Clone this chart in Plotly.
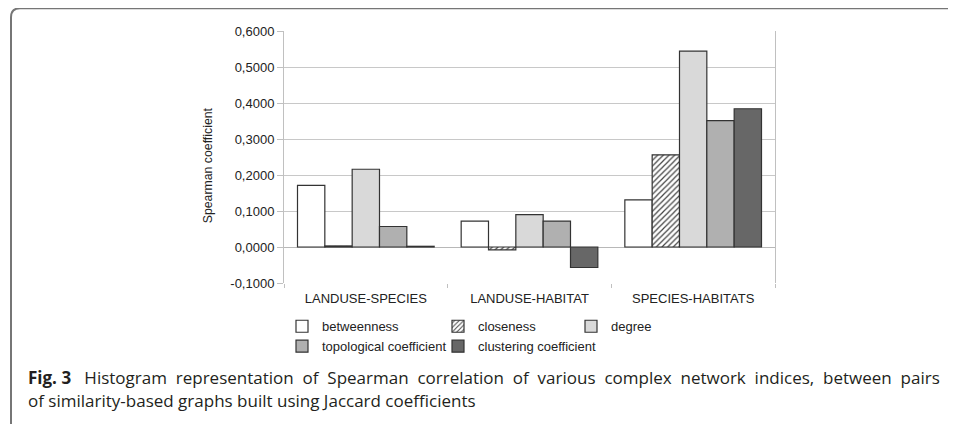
import plotly.graph_objects as go

categories = ["LANDUSE-SPECIES", "LANDUSE-HABITAT", "SPECIES-HABITATS"]
betweenness = [0.171, 0.072, 0.131]
closeness = [0.003, -0.008, 0.256]
degree = [0.216, 0.090, 0.544]
topological = [0.057, 0.072, 0.351]
clustering = [0.002, -0.057, 0.384]

series_names = ["betweenness", "closeness", "degree",
                "topological coefficient", "clustering coefficient"]
tick_vals = [-0.1, 0.0, 0.1, 0.2, 0.3, 0.4, 0.5, 0.6]
tick_text = ["-0,1000", "0,0000", "0,1000", "0,2000", "0,3000",
             "0,4000", "0,5000", "0,6000"]

caption_label = "Fig. 3"
caption_line1 = ("Histogram representation of Spearman correlation of various "
                 "complex network indices, between pairs")
caption_line2 = "of similarity-based graphs built using Jaccard coefficients"

# page offset (body margin) so figure pixel = screen pixel - OFF
OFF = 8
W, H = 956 - OFF, 424 - OFF
# plot area in screen pixels
SL, SR, ST, SB = 284, 775, 30.7, 282.7
ML, MR, MT, MB = SL - OFF, W - (SR - OFF), ST - OFF, H - (SB - OFF)
PW = SR - SL
PH = SB - ST


def px(sx):
    return (sx - SL) / PW


def py(sy):
    return (SB - sy) / PH


FONT = "Liberation Sans, Arial, sans-serif"
OUT = "#333333"

fig = go.Figure()
fills = ["#ffffff", "#ffffff", "#d9d9d9", "#b0b0b0", "#676767"]
legend_ids = ["legend", "legend2", "legend3", "legend", "legend2"]
values = [betweenness, closeness, degree, topological, clustering]
for i, (name, vals) in enumerate(zip(series_names, values)):
    marker = dict(color=fills[i], line=dict(color=OUT, width=1.2))
    if name == "closeness":
        marker["pattern"] = dict(shape="/", size=4, solidity=0.3,
                                 fgcolor="#444444", bgcolor="#ffffff",
                                 fillmode="replace")
    fig.add_trace(go.Bar(x=categories, y=vals, name=name, marker=marker,
                         legend=legend_ids[i]))

shapes = [
    dict(type="path", xref="paper", yref="paper",
         path=f"M {px(11)},{py(430)} L {px(11)},{py(17)} Q {px(11)},{py(8)} {px(20)},{py(8)} L {px(960)},{py(8)}",
         line=dict(color="#767676", width=2)),
]

CAP_FONT = dict(family="Open Sans, sans-serif", size=17, color="#231f20")
# justified first line: widen the word gaps
line1_justified = caption_line1.replace(" ", " \u00a0")
annotations = [
    dict(text="Spearman coefficient", textangle=-90, x=px(208), y=py(165),
         xref="paper", yref="paper", showarrow=False,
         font=dict(family=FONT, size=12.3, color="#222222"),
         xanchor="center", yanchor="middle"),
    dict(text=f"<b>{caption_label}</b>\u00a0\u00a0\u00a0{line1_justified}",
         x=px(26), y=py(377), xref="paper", yref="paper", showarrow=False,
         font=CAP_FONT, xanchor="left", yanchor="middle"),
    dict(text=caption_line2,
         x=px(26), y=py(400), xref="paper", yref="paper", showarrow=False,
         font=CAP_FONT, xanchor="left", yanchor="middle"),
]

LEG_FONT = dict(family=FONT, size=13, color="#222222")


def legend_at(sx, sy):
    return dict(orientation="v", x=px(sx), y=py(sy), xanchor="left",
                yanchor="top", xref="paper", yref="paper", itemwidth=30,
                traceorder="normal", font=LEG_FONT, tracegroupgap=0,
                bgcolor="rgba(0,0,0,0)", itemclick=False)


fig.update_layout(
    width=W, height=H,
    margin=dict(l=ML, r=MR, t=MT, b=MB, pad=0, autoexpand=False),
    paper_bgcolor="white", plot_bgcolor="white",
    barmode="group", bargap=0.165, bargroupgap=0,
    font=dict(family=FONT, size=13, color="#222222"),
    showlegend=True,
    legend=legend_at(282, 311),
    legend2=legend_at(438, 311),
    legend3=legend_at(571, 311),
    xaxis=dict(type="category", tickson="boundaries", ticks="outside",
               ticklen=4, tickcolor="#c0c0c0", showgrid=False,
               showline=False, zeroline=False, ticklabelstandoff=6,
               tickfont=dict(family=FONT, size=13, color="#222222")),
    yaxis=dict(range=[-0.1, 0.6], tickvals=tick_vals, ticktext=tick_text,
               ticks="outside", ticklen=6, tickcolor="#c0c0c0",
               showgrid=True, gridcolor="#c8c8c8", gridwidth=1,
               zeroline=True, zerolinecolor="#b8b8b8", zerolinewidth=1,
               showline=True, linecolor="#c0c0c0", linewidth=1, mirror=True,
               tickfont=dict(family=FONT, size=13, color="#222222")),
    shapes=shapes,
    annotations=annotations,
)

fig.write_html("out.html")
